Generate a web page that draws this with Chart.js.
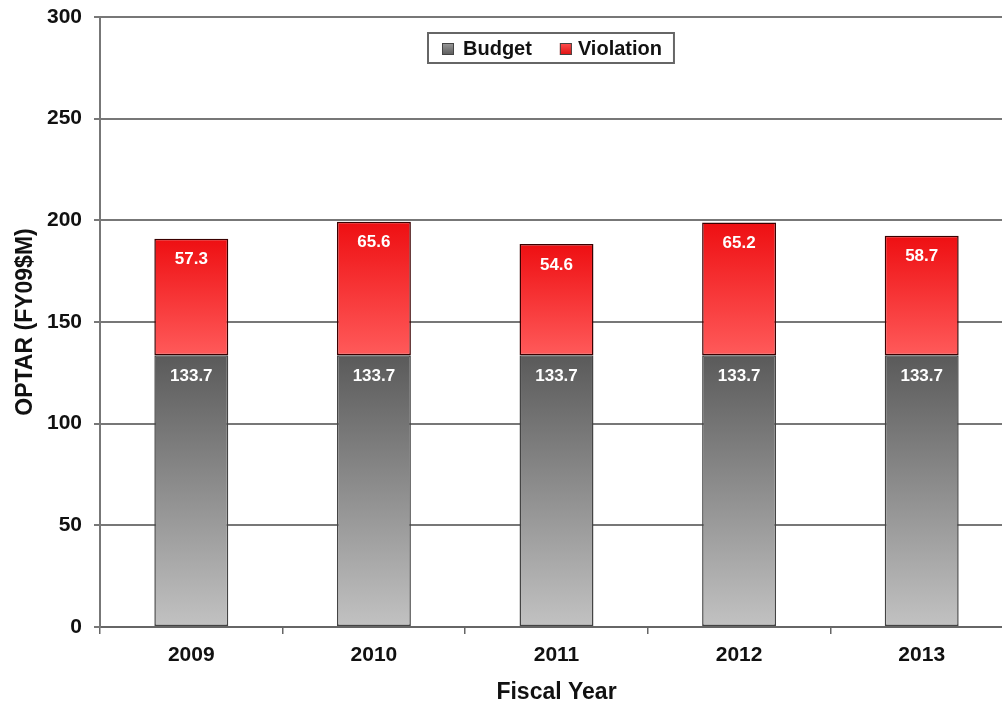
<!DOCTYPE html>
<html>
<head>
<meta charset="utf-8">
<script src="https://cdn.jsdelivr.net/npm/chart.js@4/dist/chart.umd.min.js"></script>
<style>
  html, body { margin: 0; padding: 0; background: #fff; overflow: hidden; }
  #wrap { width: 1016px; height: 710px; position: relative; }
</style>
</head>
<body>
<div id="wrap"><canvas id="optarChart"></canvas></div>
<script>
// OPTAR budget vs violation by fiscal year (FY09 $M)
var years = ["2009", "2010", "2011", "2012", "2013"];
var budget = [133.7, 133.7, 133.7, 133.7, 133.7];
var violation = [57.3, 65.6, 54.6, 65.2, 58.7];
var yTicks = [0, 50, 100, 150, 200, 250, 300];

var fontFamily = "'Liberation Sans', Arial, sans-serif";

// vertical gradient between two values on the y scale
function barGradient(chart, fromVal, toVal, topColor, bottomColor) {
  var y = chart.scales.y;
  if (!chart.chartArea || !y) return bottomColor;
  var g = chart.ctx.createLinearGradient(0, y.getPixelForValue(toVal), 0, y.getPixelForValue(fromVal));
  g.addColorStop(0, topColor);
  g.addColorStop(1, bottomColor);
  return g;
}

// white value labels near the top of each segment
var segmentLabels = {
  id: "segmentLabels",
  afterDatasetsDraw: function (chart) {
    var ctx = chart.ctx;
    ctx.save();
    ctx.font = "bold 17px " + fontFamily;
    ctx.fillStyle = "#ffffff";
    ctx.textAlign = "center";
    ctx.textBaseline = "middle";
    chart.data.datasets.forEach(function (ds, di) {
      chart.getDatasetMeta(di).data.forEach(function (bar, i) {
        ctx.fillText(ds.data[i].toFixed(1), bar.x, bar.y + 21);
      });
    });
    ctx.restore();
  }
};

// boxed legend sitting inside the plot, near the top
var boxedLegend = {
  id: "boxedLegend",
  afterDraw: function (chart) {
    var ctx = chart.ctx;
    var area = chart.chartArea;
    var items = [
      { text: chart.data.datasets[0].label, top: "#9a9a9a", bottom: "#5a5a5a" },
      { text: chart.data.datasets[1].label, top: "#ff5050", bottom: "#e01010" }
    ];
    var left = area.left + 328;
    var top = area.top + 16;
    var h = 30;
    ctx.save();
    ctx.font = "bold 20px " + fontFamily;
    ctx.textBaseline = "middle";
    var x = left + 14;
    var cy = top + h / 2 + 1;
    items.forEach(function (it, k) {
      var g = ctx.createLinearGradient(0, cy - 6, 0, cy + 6);
      g.addColorStop(0, it.top);
      g.addColorStop(1, it.bottom);
      ctx.fillStyle = g;
      ctx.fillRect(x, cy - 6, 12, 12);
      ctx.strokeStyle = "#444";
      ctx.lineWidth = 1;
      ctx.strokeRect(x + 0.5, cy - 5.5, 11, 11);
      ctx.fillStyle = "#111";
      var tx = x + (k === 0 ? 21 : 18);
      ctx.fillText(it.text, tx, cy);
      x = tx + ctx.measureText(it.text).width + (k === 0 ? 28 : 0);
    });
    ctx.strokeStyle = "#666";
    ctx.lineWidth = 2;
    ctx.strokeRect(left, top, x - left + 12, h);
    ctx.restore();
  }
};

new Chart(document.getElementById("optarChart"), {
  type: "bar",
  data: {
    labels: years,
    datasets: [
      {
        label: "Budget",
        data: budget,
        backgroundColor: function (c) {
          return barGradient(c.chart, 0, budget[c.dataIndex] || 0, "#5a5a5a", "#c2c2c2");
        },
        borderColor: "#444",
        borderWidth: 1.5,
        borderSkipped: false,
        barPercentage: 0.405,
        categoryPercentage: 1
      },
      {
        label: "Violation",
        data: violation,
        backgroundColor: function (c) {
          var b = budget[c.dataIndex] || 0;
          return barGradient(c.chart, b, b + (violation[c.dataIndex] || 0), "#ee0f12", "#ff5a5a");
        },
        borderColor: "#3a0000",
        borderWidth: 1.5,
        borderSkipped: false,
        barPercentage: 0.405,
        categoryPercentage: 1
      }
    ]
  },
  options: {
    responsive: true,
    maintainAspectRatio: false,
    animation: false,
    layout: { padding: { top: 17, right: 3, left: 0, bottom: 0 } },
    plugins: {
      legend: { display: false },
      tooltip: { enabled: false }
    },
    scales: {
      x: {
        stacked: true,
        offset: true,
        afterFit: function (s) { s.height = 83; s.paddingLeft = 0; s.paddingRight = 0; },
        border: { color: "#666", width: 2 },
        grid: {
          offset: true,
          drawOnChartArea: false,
          tickLength: 7,
          color: "#666",
          lineWidth: 1.5
        },
        ticks: {
          color: "#111",
          padding: 9,
          font: { family: fontFamily, size: 21, weight: "bold" }
        },
        title: {
          display: true,
          text: "Fiscal Year",
          color: "#111",
          padding: { top: 5 },
          font: { family: fontFamily, size: 23, weight: "bold" }
        }
      },
      y: {
        stacked: true,
        min: 0,
        max: 300,
        afterFit: function (s) { s.width = 100; s.paddingTop = 0; s.paddingBottom = 0; },
        afterBuildTicks: function (s) {
          s.ticks = yTicks.map(function (v) { return { value: v }; });
        },
        border: { color: "#777", width: 2 },
        grid: {
          color: "#777",
          lineWidth: 2,
          tickLength: 6
        },
        ticks: {
          color: "#111",
          padding: 12,
          font: { family: fontFamily, size: 21, weight: "bold" }
        },
        title: {
          display: true,
          text: "OPTAR (FY09$M)",
          color: "#111",
          padding: { top: 12, bottom: 0 },
          font: { family: fontFamily, size: 23, weight: "bold" }
        }
      }
    }
  },
  plugins: [segmentLabels, boxedLegend]
});
</script>
</body>
</html>
